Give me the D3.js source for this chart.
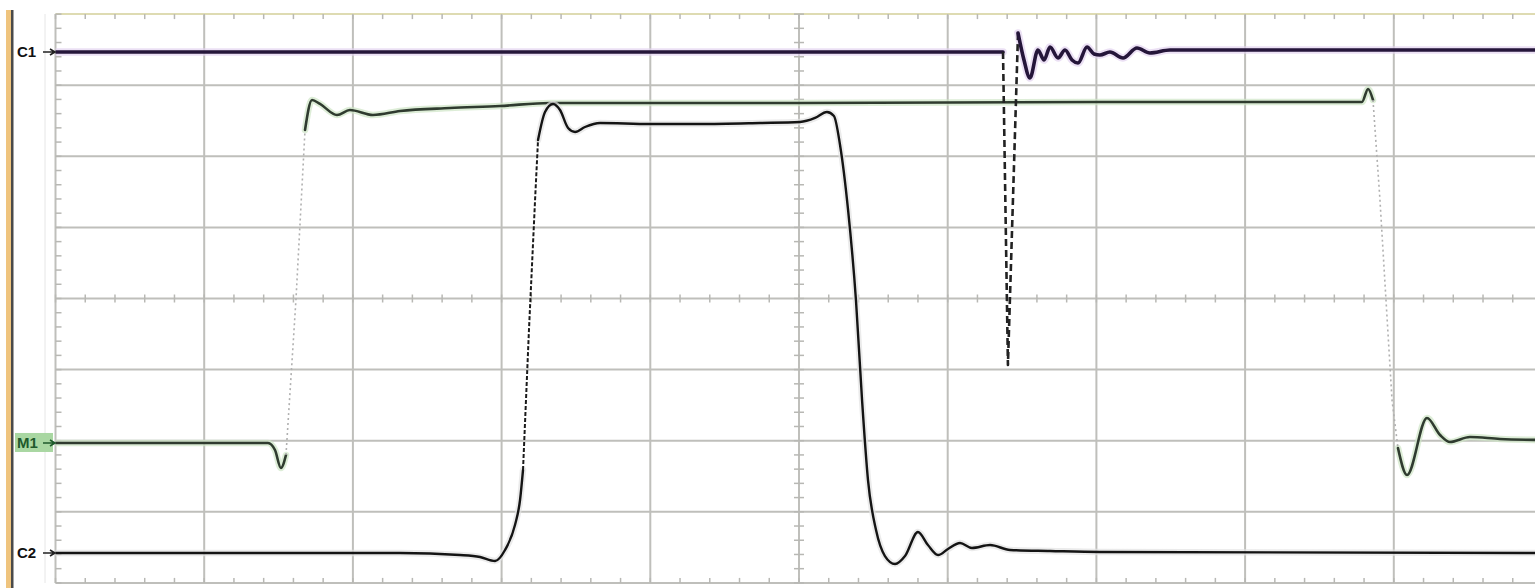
<!DOCTYPE html>
<html><head><meta charset="utf-8">
<script src="https://cdn.jsdelivr.net/npm/d3@7"></script>
<style>html,body{margin:0;padding:0;background:#fff;overflow:hidden}svg{display:block}</style>
</head><body><svg id="c" width="1535" height="588"></svg>
<script>
// ---- data (time in divisions, amplitude in divisions) ----
const c1Time = [0, 6.372, 6.405, 6.473, 6.513, 6.553, 6.607, 6.648, 6.688, 6.742, 6.789, 6.836, 6.876, 6.937, 6.984, 7.024, 7.091, 7.179, 7.273, 7.360, 7.495, 10];
const c1Volt = [3.467, 3.467, -0.935, 3.734, 3.354, 3.101, 3.495, 3.354, 3.537, 3.383, 3.495, 3.354, 3.312, 3.537, 3.439, 3.425, 3.467, 3.383, 3.523, 3.453, 3.495, 3.495];

const m1Time = [0, 1.429, 1.476, 1.516, 1.550, 1.617, 1.678, 1.725, 1.779, 1.893, 1.980, 2.135, 2.317, 2.653, 2.989, 3.325, 5.007, 7.024, 8.786, 8.827, 8.860, 8.907, 8.988, 9.028, 9.089, 9.223, 9.311, 9.378, 9.512, 9.714, 10];
const m1Volt = [-2.032, -2.032, -2.131, -2.384, -2.201, -0.021, 2.370, 2.792, 2.736, 2.581, 2.651, 2.581, 2.637, 2.679, 2.707, 2.750, 2.750, 2.764, 2.764, 2.947, 2.792, 1.385, -1.428, -2.103, -2.482, -1.681, -1.920, -2.018, -1.948, -1.976, -1.990];

const c2Time = [0, 2.317, 2.720, 2.855, 2.956, 3.023, 3.090, 3.124, 3.144, 3.184, 3.225, 3.245, 3.292, 3.346, 3.393, 3.447, 3.494, 3.561, 3.662, 3.998, 4.334, 4.738, 5.007, 5.108, 5.188, 5.235, 5.276, 5.330, 5.383, 5.424, 5.464, 5.518, 5.578, 5.646, 5.713, 5.800, 5.867, 5.935, 6.002, 6.083, 6.163, 6.285, 6.419, 6.688, 7.024, 10];
const c2Volt = [-3.579, -3.579, -3.608, -3.636, -3.692, -3.537, -3.186, -2.834, -2.412, -0.443, 1.385, 2.229, 2.623, 2.736, 2.651, 2.398, 2.342, 2.412, 2.468, 2.454, 2.454, 2.468, 2.482, 2.539, 2.623, 2.567, 2.159, 1.245, -0.021, -1.428, -2.553, -3.256, -3.622, -3.734, -3.622, -3.284, -3.467, -3.608, -3.523, -3.439, -3.509, -3.467, -3.537, -3.551, -3.565, -3.579];

const channelLabels = ["C1", "M1", "C2"];
const channelLevels = [3.467, -2.032, -3.579];
const timeDivs = [0, 1, 2, 3, 4, 5, 6, 7, 8, 9, 10];
const voltDivs = [-4, -3, -2, -1, 0, 1, 2, 3, 4];

// ---- scales ----
const W = 1535, H = 588;
const x = d3.scaleLinear().domain([0, 10]).range([55.5, 1542.5]);
const y = d3.scaleLinear().domain([-4, 4]).range([582.9, 14.1]);

const svg = d3.select("#c");
svg.append("rect").attr("width", W).attr("height", H).attr("fill", "#fff");

// left instrument edge
svg.append("rect").attr("x", 6).attr("y", 10).attr("width", 5).attr("height", H - 10).attr("fill", "#efc47e");
svg.append("rect").attr("x", 11).attr("y", 10).attr("width", 2.5).attr("height", H - 10).attr("fill", "#4a4a4a");
svg.append("line").attr("x1", 45).attr("x2", 45).attr("y1", 14).attr("y2", 583).attr("stroke", "#e6e6e6").attr("stroke-width", 1);

svg.append("defs").append("clipPath").attr("id", "plot")
  .append("rect").attr("x", x(0)).attr("y", y(4) - 2).attr("width", W - x(0)).attr("height", y(-4) - y(4) + 4);

const grid = svg.append("g");
grid.selectAll("line.v").data(timeDivs).join("line").attr("class", "v")
  .attr("x1", d => x(d)).attr("x2", d => x(d)).attr("y1", y(4)).attr("y2", y(-4))
  .attr("stroke", "#bfbfbb").attr("stroke-width", 2);
grid.selectAll("line.h").data(voltDivs).join("line").attr("class", "h")
  .attr("x1", x(0)).attr("x2", W).attr("y1", d => y(d)).attr("y2", d => y(d))
  .attr("stroke", d => d === 4 ? "#dedbb2" : "#bfbfbb").attr("stroke-width", 2);

// minor ticks
const minorT = d3.range(0, 10.001, 0.2);
const minorV = d3.range(-4, 4.001, 0.2);
const tk = svg.append("g").attr("stroke", "#b8b8b4").attr("stroke-width", 1.5);
tk.selectAll("line.a").data(minorV).join("line").attr("class", "a")
  .attr("x1", x(5) - 5).attr("x2", x(5) + 5).attr("y1", d => y(d)).attr("y2", d => y(d));
tk.selectAll("line.b").data(minorT).join("line").attr("class", "b")
  .attr("x1", d => x(d)).attr("x2", d => x(d)).attr("y1", y(0) - 4).attr("y2", y(0) + 4);
tk.selectAll("line.c").data(minorT).join("line").attr("class", "c")
  .attr("x1", d => x(d)).attr("x2", d => x(d)).attr("y1", y(4)).attr("y2", y(4) + 5);
tk.selectAll("line.d").data(minorT).join("line").attr("class", "d")
  .attr("x1", d => x(d)).attr("x2", d => x(d)).attr("y1", y(-4) - 5).attr("y2", y(-4));
tk.selectAll("line.e").data(minorV).join("line").attr("class", "e")
  .attr("x1", x(0)).attr("x2", x(0) + 6).attr("y1", d => y(d)).attr("y2", d => y(d));

// ---- traces ----
function splitRuns(ts, vs, ratio) {
  const pts = ts.map((t, i) => [x(t), y(vs[i])]);
  const runs = [];
  let cur = null;
  for (let i = 0; i < pts.length - 1; i++) {
    const a = pts[i], b = pts[i + 1];
    const dx = Math.abs(b[0] - a[0]), dy = Math.abs(b[1] - a[1]);
    const steep = dy > 30 && dy > ratio * dx;
    if (!cur || cur.steep !== steep) { cur = { steep, pts: [a] }; runs.push(cur); }
    cur.pts.push(b);
  }
  return runs;
}
const smooth = d3.line().curve(d3.curveMonotoneX);
const straight = d3.line();
const traces = svg.append("g").attr("clip-path", "url(#plot)");

function drawTrace(ts, vs, o) {
  const runs = splitRuns(ts, vs, o.ratio);
  const g = traces.append("g").attr("fill", "none").attr("stroke-linejoin", "round").attr("stroke-linecap", "round");
  runs.filter(r => !r.steep).forEach(r => {
    g.append("path").attr("d", smooth(r.pts)).attr("stroke", o.halo).attr("stroke-width", o.width + 4).attr("opacity", 0.7);
  });
  runs.forEach(r => {
    if (r.steep) {
      g.append("path").attr("d", straight(r.pts)).attr("stroke", o.steepColor).attr("stroke-width", o.steepWidth)
        .attr("stroke-dasharray", o.dash).attr("stroke-linecap", "butt");
    } else {
      g.append("path").attr("d", smooth(r.pts)).attr("stroke", o.color).attr("stroke-width", o.width);
    }
  });
}
drawTrace(m1Time, m1Volt, { color: "#2f3b2f", halo: "#cfe6c6", width: 2.6, steepColor: "#b0b0b0", steepWidth: 1.6, dash: "2,3", ratio: 6 });
drawTrace(c2Time, c2Volt, { color: "#141414", halo: "#e2e2e2", width: 2.4, steepColor: "#1a1a1a", steepWidth: 2, dash: "4,2", ratio: 17 });
drawTrace(c1Time, c1Volt, { color: "#25163a", halo: "#e3d3ef", width: 3.6, steepColor: "#222", steepWidth: 2.6, dash: "7,4", ratio: 6 });

// ---- channel labels ----
const lab = svg.append("g").attr("font-family", "Arial, 'Liberation Sans', sans-serif").attr("font-size", 15).attr("font-weight", "bold");
channelLabels.forEach((name, i) => {
  const yy = y(channelLevels[i]);
  const isM = name === "M1";
  if (isM) lab.append("rect").attr("x", 15).attr("y", yy - 10).attr("width", 38).attr("height", 19).attr("fill", "#a9d7a2");
  lab.append("text").attr("x", 17).attr("y", yy + 5.5).attr("fill", isM ? "#1f5a2c" : "#111").text(name);
  lab.append("path").attr("d", `M${43},${yy} L${55},${yy} M${50},${yy - 3} L${55},${yy} L${50},${yy + 3}`)
    .attr("stroke", isM ? "#1f5a2c" : "#222").attr("stroke-width", 1.6).attr("fill", "none");
});
</script>
</body></html>
